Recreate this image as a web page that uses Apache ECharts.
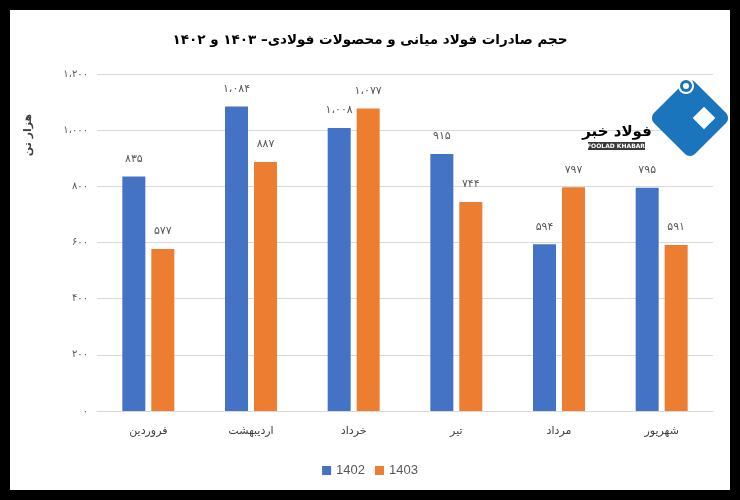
<!DOCTYPE html>
<html>
<head>
<meta charset="utf-8">
<style>html,body{margin:0;padding:0;background:#fff;}#c{width:740px;height:500px;}</style>
<script src="https://cdn.jsdelivr.net/npm/echarts@6/dist/echarts.min.js"></script>
</head>
<body>
<div id="c"></div>
<script>
const titleText = 'حجم صادرات فولاد میانی و محصولات فولادی– ۱۴۰۳ و ۱۴۰۲';
const yAxisTitle = 'هزار تن';
const categories = ['فروردین', 'اردیبهشت', 'خرداد', 'تیر', 'مرداد', 'شهریور'];
const seriesNames = ['1402', '1403'];
const values1402 = [835, 1084, 1008, 915, 594, 795];
const values1403 = [577, 887, 1077, 744, 797, 591];
const yTickLabels = ['۰', '۲۰۰', '۴۰۰', '۶۰۰', '۸۰۰', '۱،۰۰۰', '۱،۲۰۰'];

const FA = '۰۱۲۳۴۵۶۷۸۹';
function toFa(n) {
  let s = String(Math.round(n));
  if (s.length > 3) s = s.slice(0, s.length - 3) + '،' + s.slice(s.length - 3);
  return s.replace(/\d/g, d => FA[d]);
}

const chart = echarts.init(document.getElementById('c'), null, {renderer: 'canvas'});
const arFont = 'DejaVu Sans';
const labelCfg = {
  show: true, position: 'top', distance: 12,
  fontFamily: arFont, fontSize: 11, color: '#595959',
  formatter: p => toFa(p.value)
};
const option = {
  backgroundColor: '#ffffff',
  animation: false,
  title: {
    text: titleText, left: 'center', top: 28,
    textStyle: {fontFamily: arFont, fontWeight: 'bold', fontSize: 13.5, color: '#000'}
  },
  legend: {
    data: seriesNames, left: 'center', top: 459,
    itemWidth: 9, itemHeight: 9, itemGap: 10,
    icon: 'rect',
    textStyle: {fontFamily: 'Liberation Sans', fontSize: 13, color: '#595959'}
  },
  grid: {left: 97, right: 27, top: 74, bottom: 89, containLabel: false},
  xAxis: {
    type: 'category', data: categories,
    axisLine: {lineStyle: {color: '#d9d9d9'}},
    axisTick: {show: false},
    axisLabel: {fontFamily: arFont, fontSize: 11, color: '#404040', margin: 15}
  },
  yAxis: {
    type: 'value', min: 0, max: 1200, interval: 200,
    axisLine: {show: false}, axisTick: {show: false},
    splitLine: {lineStyle: {color: '#d9d9d9'}},
    axisLabel: {
      fontFamily: arFont, fontSize: 10, color: '#595959', margin: 9,
      formatter: v => yTickLabels[Math.round(v / 200)]
    }
  },
  series: [
    {name: seriesNames[0], type: 'bar', data: values1402, barWidth: 23, barGap: '26%',
     itemStyle: {color: '#4472C4'}, label: labelCfg},
    {name: seriesNames[1], type: 'bar', data: values1403, barWidth: 23, barGap: '26%',
     itemStyle: {color: '#ED7D31'}, label: labelCfg}
  ],
  graphic: [
    {type: 'text', x: 28, y: 135, rotation: Math.PI / 2,
     style: {text: yAxisTitle, fontFamily: arFont, fontWeight: 'bold', fontSize: 11, fill: '#404040', align: 'center', verticalAlign: 'middle'}},
    // logo
    {type: 'rect', x: 690, y: 118, rotation: Math.PI / 4, z: 50,
     shape: {x: -29, y: -29, width: 58, height: 58, r: 7}, style: {fill: '#1b75bc'}},
    {type: 'rect', x: 704, y: 118, rotation: Math.PI / 4, z: 52,
     shape: {x: -8, y: -8, width: 16, height: 16}, style: {fill: '#ffffff'}},
    {type: 'circle', z: 52, shape: {cx: 686, cy: 86, r: 8}, style: {fill: '#ffffff'}},
    {type: 'circle', z: 53, shape: {cx: 686, cy: 86, r: 6}, style: {fill: '#1b75bc'}},
    {type: 'circle', z: 54, shape: {cx: 686, cy: 86, r: 3}, style: {fill: '#ffffff'}},
    {type: 'text', x: 617, y: 132, z: 55,
     style: {text: 'فولاد خبر', fontFamily: arFont, fontWeight: 'bold', fontSize: 15, fill: '#000', align: 'center', verticalAlign: 'middle'}},
    {type: 'rect', z: 55, shape: {x: 588, y: 142, width: 57, height: 8}, style: {fill: '#3a3a3a'}},
    {type: 'text', x: 616, y: 146, z: 56,
     style: {text: 'FOOLAD KHABAR', fontFamily: 'DejaVu Sans', fontWeight: 'bold', fontSize: 6, fill: '#fff', align: 'center', verticalAlign: 'middle'}},
    // black frame
    {type: 'rect', z: 100, shape: {x: 0, y: 0, width: 740, height: 10}, style: {fill: '#000'}},
    {type: 'rect', z: 100, shape: {x: 0, y: 490, width: 740, height: 10}, style: {fill: '#000'}},
    {type: 'rect', z: 100, shape: {x: 0, y: 0, width: 10, height: 500}, style: {fill: '#000'}},
    {type: 'rect', z: 100, shape: {x: 730, y: 0, width: 10, height: 500}, style: {fill: '#000'}}
  ]
};
chart.setOption(option);
</script>
</body>
</html>
